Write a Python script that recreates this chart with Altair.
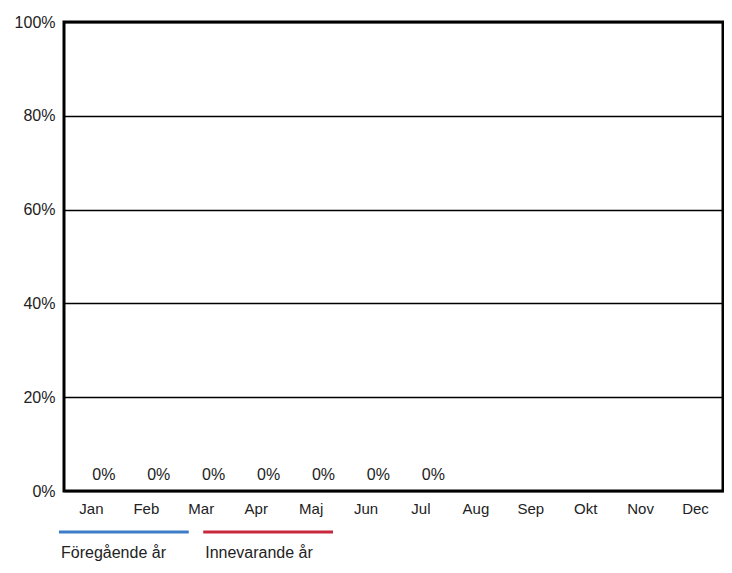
import altair as alt
import pandas as pd

months = ["Jan", "Feb", "Mar", "Apr", "Maj", "Jun", "Jul", "Aug", "Sep", "Okt", "Nov", "Dec"]
series_names = ["Föregående år", "Innevarande år"]
prev_year = [None] * 12
curr_year = [0, 0, 0, 0, 0, 0, 0, None, None, None, None, None]
series_colors = ["#3d7dc8", "#c8283c"]
y_ticks = [0, 0.2, 0.4, 0.6, 0.8, 1.0]

rows = []
for m, p, c in zip(months, prev_year, curr_year):
    rows.append({"month": m, "series": series_names[0], "value": p})
    rows.append({"month": m, "series": series_names[1], "value": c})
df = pd.DataFrame(rows)
legend_df = pd.DataFrame({"series": series_names})

FONT = "Liberation Sans"
color = alt.Color("series:N", scale=alt.Scale(domain=series_names, range=series_colors), legend=None)

x_enc = alt.X("month:N", sort=months,
              scale=alt.Scale(domain=months, paddingInner=0.1, paddingOuter=0.05),
              axis=alt.Axis(title=None, labelAngle=0, labelPadding=10, labelFontSize=15,
                            ticks=False, domain=False, labelColor="#222", labelFont=FONT))
xoff = alt.XOffset("series:N", sort=series_names, scale=alt.Scale(domain=series_names))
y_enc = alt.Y("value:Q", scale=alt.Scale(domain=[0, 1], nice=False),
              axis=alt.Axis(title=None, format=".0%", values=y_ticks, grid=True,
                            gridColor="black", gridWidth=1.5, gridOpacity=1,
                            ticks=False, domain=False, labelPadding=9, labelFontSize=16,
                            labelColor="#222", labelFont=FONT))

bars = alt.Chart(df).mark_bar().encode(x=x_enc, xOffset=xoff, y=y_enc, color=color)
labels = alt.Chart(df).transform_filter("isValid(datum.value)").mark_text(
    baseline="alphabetic", dy=-11, fontSize=16, font=FONT, color="#222"
).encode(x=alt.X("month:N", sort=months), xOffset=xoff, y="value:Q",
         text=alt.Text("value:Q", format=".0%"))

main = alt.layer(bars, labels)

lx = alt.X("series:N", sort=series_names, bandPosition=0,
           scale=alt.Scale(domain=series_names, range=[-5, 269], paddingInner=0.1, paddingOuter=0),
           axis=None)
leg_lines = alt.Chart(legend_df).mark_rect().encode(
    x=alt.X("series:N", sort=series_names,
            scale=alt.Scale(domain=series_names, range=[-5, 269], paddingInner=0.1, paddingOuter=0),
            axis=None),
    y=alt.value(508.5), y2=alt.value(511.5), color=color)
leg_text = alt.Chart(legend_df).mark_text(
    align="left", baseline="alphabetic", dx=2, fontSize=16, font=FONT, color="#222"
).encode(x=lx, y=alt.value(536), text="series:N")
legend = alt.layer(leg_lines, leg_text)

chart = alt.layer(main, legend).resolve_scale(x="independent").properties(
    width=659, height=469,
    padding={"left": 56, "top": 14, "right": 1, "bottom": 70},
    autosize=alt.AutoSizeParams(type="none"),
).configure_view(stroke="black", strokeWidth=3)

chart.save("out.html", embed_options={"renderer": "svg", "actions": False})
